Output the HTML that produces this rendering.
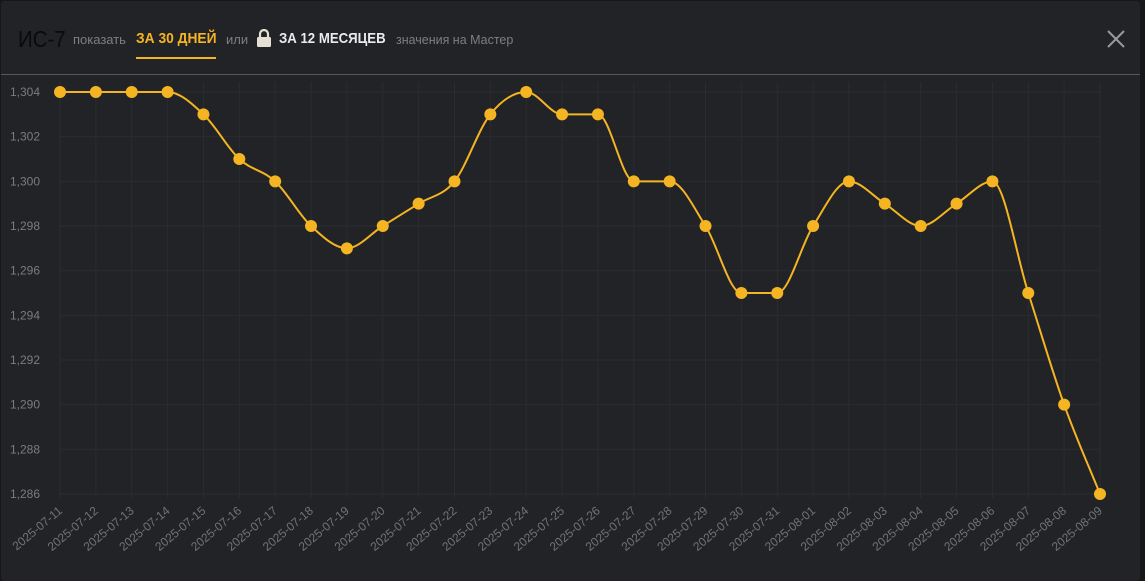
<!DOCTYPE html>
<html><head><meta charset="utf-8"><style>
body{margin:0;width:1145px;height:573px;background:#16171a;overflow:hidden;font-family:"Liberation Sans",sans-serif}
#panel{position:absolute;left:1px;top:1px;width:1139px;height:580px;background:#212327;border-radius:3px}
#hdr{position:absolute;left:0;top:0;width:1139px;height:73px;border-bottom:1px solid #55585c}
.t{position:absolute;top:26px;white-space:nowrap;transform-origin:0 50%}
</style></head><body>
<div id="panel">
 <div id="hdr">
  <span class="t" style="left:17px;top:25px;font-size:23px;color:#0a0a0a;transform:scaleX(0.89)">ИС-7</span>
  <span class="t" style="left:72px;top:31px;font-size:13px;color:#7d7f80">показать</span>
  <span class="t" style="left:135px;top:29px;font-size:15px;font-weight:bold;color:#f5b422;transform:scaleX(0.92)">ЗА 30 ДНЕЙ</span>
  <div style="position:absolute;left:135px;top:56px;width:80px;height:2px;background:#f5b422"></div>
  <span class="t" style="left:225px;top:31px;font-size:13px;color:#7d7f80">или</span>
  <svg style="position:absolute;left:255px;top:28px" width="16" height="18" viewBox="0 0 16 18"><path d="M4 8V5a4 4 0 0 1 8 0v3" stroke="#e6e0d4" stroke-width="2.2" fill="none"/><rect x="1" y="8" width="14" height="10" rx="1.5" fill="#e6e0d4"/></svg>
  <span class="t" style="left:278px;top:29px;font-size:15px;font-weight:bold;color:#e8eaec;transform:scaleX(0.88)">ЗА 12 МЕСЯЦЕВ</span>
  <span class="t" style="left:395px;top:31px;font-size:13px;color:#7d7f80;transform:scaleX(0.96)">значения на Мастер</span>
  <svg style="position:absolute;left:1106px;top:29px" width="18" height="18"><path d="M1 1L17 17M17 1L1 17" stroke="#999" stroke-width="2"/></svg>
 </div>
</div>
<svg id="chart" width="1145" height="573" style="position:absolute;left:0;top:0"></svg>
<script>
const dates=["2025-07-11","2025-07-12","2025-07-13","2025-07-14","2025-07-15","2025-07-16","2025-07-17","2025-07-18","2025-07-19","2025-07-20","2025-07-21","2025-07-22","2025-07-23","2025-07-24","2025-07-25","2025-07-26","2025-07-27","2025-07-28","2025-07-29","2025-07-30","2025-07-31","2025-08-01","2025-08-02","2025-08-03","2025-08-04","2025-08-05","2025-08-06","2025-08-07","2025-08-08","2025-08-09"];
const values=[1304,1304,1304,1304,1303,1301,1300,1298,1297,1298,1299,1300,1303,1304,1303,1303,1300,1300,1298,1295,1295,1298,1300,1299,1298,1299,1300,1295,1290,1286];
const yTicks=[1286,1288,1290,1292,1294,1296,1298,1300,1302,1304];
const yTickLabels=["1,286","1,288","1,290","1,292","1,294","1,296","1,298","1,300","1,302","1,304"];
const svg=document.getElementById('chart'),NS='http://www.w3.org/2000/svg';
const X0=60,X1=1100,Y0=494,Y1=92,yMin=1286,yMax=1304;
const xs=i=>X0+(X1-X0)*i/(dates.length-1);
const ys=v=>Y0-(Y0-Y1)*(v-yMin)/(yMax-yMin);
function mk(t,a,p){const e=document.createElementNS(NS,t);for(const k in a)e.setAttribute(k,a[k]);(p||svg).appendChild(e);return e;}
const g=mk('g',{});


yTicks.forEach((v,i)=>{
 const l=mk('line',{x1:X0,x2:X1,y1:ys(v),y2:ys(v),stroke:'#2a2c30','stroke-width':1},g);
 
 
 const t=mk('text',{x:X0-20,y:ys(v)+4,'text-anchor':'end','font-size':12,fill:'#7a7c7f','font-family':'Liberation Sans, sans-serif'});
 t.textContent=yTickLabels[i];
 
 
});
dates.forEach((d,i)=>{
 const l=mk('line',{x1:xs(i),x2:xs(i),y1:Y1-10,y2:Y0+4,stroke:'#2a2c30','stroke-width':1},g);
 
 
 const t=mk('text',{x:xs(i)+3,y:Y0+18,'text-anchor':'end','font-size':12,fill:'#717376','font-family':'Liberation Sans, sans-serif',transform:`rotate(-40 ${xs(i)+3} ${Y0+18})`});
 t.textContent=d;
 
 
});
const n=values.length,px=values.map((v,i)=>xs(i)),py=values.map(ys);
const dl=[],m=[];for(let i=0;i<n-1;i++)dl.push((py[i+1]-py[i])/(px[i+1]-px[i]));
for(let i=0;i<n;i++){if(i==0)m.push(dl[0]);else if(i==n-1)m.push(dl[n-2]);else m.push(dl[i-1]*dl[i]<=0?0:(dl[i-1]+dl[i])/2);}
for(let i=0;i<n-1;i++){if(dl[i]==0){m[i]=0;m[i+1]=0;continue;}const a=m[i]/dl[i],b=m[i+1]/dl[i],s=a*a+b*b;if(s>9){const t=3/Math.sqrt(s);m[i]=t*a*dl[i];m[i+1]=t*b*dl[i];}}
let d=`M${px[0]},${py[0]}`;
for(let i=0;i<n-1;i++){const h=(px[i+1]-px[i])/3;d+=`C${px[i]+h},${py[i]+m[i]*h} ${px[i+1]-h},${py[i+1]-m[i+1]*h} ${px[i+1]},${py[i+1]}`;}
const line=mk('path',{d:d,fill:'none',stroke:'#f5b422','stroke-width':2});


values.forEach((v,i)=>{
 const c=mk('circle',{cx:xs(i),cy:ys(v),r:6,fill:'#f5b422'});
 
 
});
</script>
</body></html>
